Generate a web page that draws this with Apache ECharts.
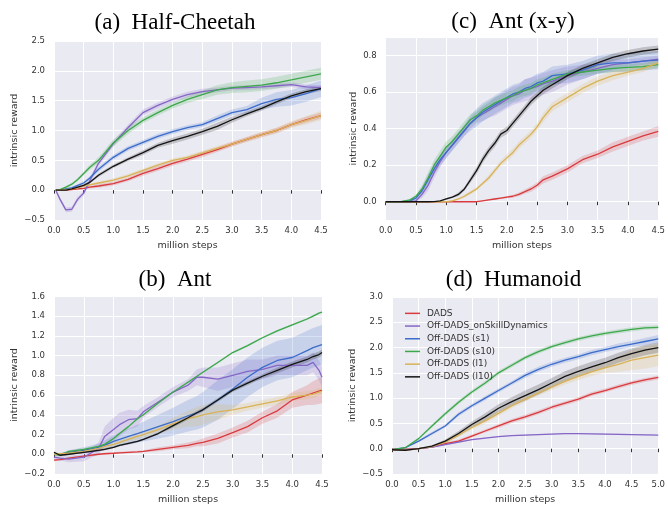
<!DOCTYPE html>
<html>
<head>
<meta charset="utf-8">
<script src="https://cdn.jsdelivr.net/npm/echarts@6/dist/echarts.min.js"></script>
<style>
html,body{margin:0;padding:0;background:#fff;}
#chart{width:668px;height:506px;}
</style>
</head>
<body>
<div id="chart"></div>
<script>
// ---------- data ----------
const seriesNames = ['DADS','Off-DADS_onSkillDynamics','Off-DADS (s1)','Off-DADS (s10)','Off-DADS (l1)','Off-DADS (l10)'];
const panelTitles = ['(a)  Half-Cheetah','(c)  Ant (x-y)','(b)  Ant','(d)  Humanoid'];

// (a) Half-Cheetah
const xA = [0.03,0.1,0.2,0.3,0.4,0.5,0.6,0.75,1.0,1.25,1.5,1.75,2.0,2.25,2.5,2.75,3.0,3.25,3.5,3.75,4.0,4.25,4.5];
const aRed = [0,0,0,0.01,0.02,0.03,0.05,0.07,0.11,0.18,0.28,0.36,0.45,0.52,0.6,0.68,0.77,0.85,0.93,1.0,1.1,1.18,1.25];
const aPur = [0,-0.15,-0.33,-0.32,-0.15,-0.05,0.15,0.45,0.78,1.05,1.3,1.42,1.52,1.6,1.65,1.68,1.71,1.72,1.73,1.75,1.77,1.73,1.72];
const aBlu = [0,0,0.02,0.04,0.08,0.12,0.2,0.35,0.55,0.7,0.8,0.9,0.98,1.05,1.1,1.2,1.3,1.35,1.45,1.52,1.55,1.62,1.7];
const aGrn = [0,0.01,0.05,0.1,0.18,0.28,0.38,0.5,0.79,1.0,1.17,1.3,1.42,1.52,1.6,1.68,1.72,1.74,1.76,1.8,1.85,1.9,1.95];
const aGld = [0,0,0.01,0.02,0.04,0.07,0.09,0.12,0.17,0.24,0.33,0.42,0.5,0.55,0.62,0.7,0.77,0.85,0.93,1.0,1.1,1.17,1.25];
const aBlk = [0,0,0,0.02,0.05,0.08,0.13,0.25,0.4,0.52,0.63,0.75,0.83,0.9,0.98,1.07,1.18,1.28,1.37,1.48,1.58,1.65,1.7];
const aRedSd = [0.01,0.01,0.01,0.01,0.02,0.02,0.02,0.03,0.03,0.03,0.04,0.04,0.04,0.04,0.05,0.04,0.04,0.04,0.04,0.04,0.04,0.05,0.05];
const aPurSd = [0.01,0.03,0.04,0.04,0.04,0.04,0.05,0.05,0.05,0.05,0.05,0.05,0.05,0.05,0.05,0.04,0.04,0.04,0.04,0.04,0.04,0.04,0.04];
const aBluSd = [0.01,0.01,0.02,0.02,0.02,0.03,0.03,0.04,0.04,0.04,0.04,0.04,0.04,0.04,0.04,0.05,0.05,0.06,0.1,0.12,0.13,0.14,0.14];
const aGrnSd = [0.01,0.01,0.02,0.02,0.03,0.03,0.04,0.05,0.06,0.06,0.05,0.05,0.05,0.06,0.07,0.08,0.09,0.1,0.1,0.1,0.1,0.1,0.1];
const aGldSd = [0.01,0.01,0.01,0.01,0.02,0.02,0.02,0.02,0.03,0.03,0.03,0.03,0.03,0.03,0.04,0.04,0.04,0.04,0.05,0.05,0.06,0.07,0.08];
const aBlkSd = [0.01,0.01,0.01,0.01,0.02,0.02,0.02,0.03,0.03,0.03,0.04,0.04,0.05,0.05,0.05,0.06,0.05,0.04,0.04,0.04,0.04,0.04,0.04];

// (c) Ant (x-y)
const xC = [0,0.25,0.4,0.5,0.6,0.7,0.8,0.9,1.0,1.1,1.2,1.3,1.4,1.5,1.6,1.7,1.8,1.9,2.0,2.1,2.2,2.3,2.4,2.5,2.6,2.75,3.0,3.25,3.5,3.75,4.0,4.25,4.5];
const cRed = [0,0,0,0,0,0,0,0,0,0,0,0,0,0,0.005,0.01,0.015,0.02,0.025,0.03,0.04,0.055,0.07,0.09,0.12,0.14,0.18,0.23,0.26,0.3,0.33,0.36,0.385];
const cPur = [0,0,0,0.005,0.04,0.09,0.16,0.22,0.27,0.31,0.35,0.39,0.43,0.46,0.48,0.5,0.52,0.54,0.56,0.58,0.59,0.61,0.62,0.63,0.645,0.66,0.69,0.71,0.73,0.75,0.76,0.77,0.78];
const cBlu = [0,0,0.005,0.02,0.06,0.12,0.18,0.23,0.27,0.31,0.35,0.39,0.43,0.46,0.49,0.51,0.53,0.55,0.57,0.59,0.6,0.62,0.63,0.65,0.66,0.69,0.7,0.72,0.75,0.76,0.76,0.77,0.775];
const cGrn = [0,0,0.01,0.03,0.07,0.13,0.2,0.25,0.3,0.33,0.37,0.41,0.45,0.47,0.5,0.52,0.54,0.555,0.57,0.58,0.6,0.61,0.62,0.64,0.65,0.67,0.7,0.71,0.72,0.73,0.735,0.74,0.75];
const cGld = [0,0,0,0,0,0,0,0,0,0.005,0.015,0.03,0.05,0.07,0.1,0.13,0.17,0.21,0.24,0.27,0.31,0.34,0.37,0.41,0.46,0.52,0.57,0.62,0.66,0.69,0.71,0.73,0.76];
const cBlk = [0,0,0,0,0,0,0.001,0.005,0.015,0.025,0.04,0.07,0.12,0.17,0.23,0.28,0.32,0.37,0.39,0.43,0.47,0.51,0.55,0.58,0.61,0.64,0.69,0.73,0.76,0.79,0.81,0.825,0.835];
const cRedSd = [0,0,0,0,0,0,0,0,0,0,0,0,0,0,0.003,0.004,0.005,0.005,0.006,0.008,0.01,0.012,0.015,0.015,0.02,0.02,0.02,0.02,0.02,0.025,0.025,0.025,0.03];
const cPurSd = [0,0,0,0.005,0.02,0.03,0.03,0.03,0.03,0.03,0.03,0.03,0.03,0.03,0.04,0.04,0.05,0.05,0.05,0.05,0.05,0.06,0.06,0.06,0.06,0.06,0.05,0.04,0.03,0.03,0.02,0.02,0.02];
const cBluSd = [0,0,0.005,0.01,0.02,0.03,0.03,0.03,0.03,0.03,0.03,0.03,0.04,0.05,0.05,0.05,0.05,0.05,0.05,0.05,0.05,0.05,0.05,0.05,0.05,0.05,0.05,0.05,0.05,0.05,0.05,0.05,0.05];
const cGrnSd = [0,0,0.005,0.01,0.02,0.03,0.03,0.03,0.03,0.03,0.03,0.03,0.03,0.03,0.03,0.03,0.03,0.03,0.03,0.03,0.03,0.03,0.03,0.03,0.03,0.03,0.02,0.02,0.02,0.02,0.02,0.02,0.02];
const cGldSd = [0,0,0,0,0,0,0,0,0,0.003,0.005,0.01,0.01,0.01,0.01,0.015,0.015,0.015,0.02,0.02,0.02,0.02,0.02,0.02,0.025,0.025,0.025,0.025,0.025,0.025,0.02,0.02,0.02];
const cBlkSd = [0,0,0,0,0,0,0,0.002,0.005,0.005,0.01,0.01,0.015,0.02,0.02,0.02,0.02,0.02,0.02,0.02,0.02,0.02,0.02,0.02,0.02,0.02,0.02,0.02,0.02,0.02,0.02,0.02,0.02];

// (b) Ant
const xB = [0,0.1,0.25,0.5,0.75,0.85,1.0,1.1,1.25,1.4,1.5,1.75,2.0,2.25,2.4,2.5,2.75,3.0,3.25,3.5,3.75,4.0,4.25,4.35,4.45,4.5];
const bRed = [-0.06,-0.055,-0.04,-0.02,0,0.005,0.01,0.015,0.02,0.025,0.03,0.05,0.07,0.09,0.11,0.12,0.16,0.22,0.28,0.37,0.44,0.55,0.6,0.62,0.64,0.65];
const bPur = [-0.03,-0.04,-0.05,-0.03,0.06,0.18,0.25,0.3,0.35,0.36,0.43,0.53,0.63,0.7,0.78,0.78,0.76,0.8,0.84,0.86,0.9,0.9,0.9,0.93,0.85,0.78];
const bBlu = [0,0,0.02,0.04,0.07,0.09,0.13,0.15,0.18,0.21,0.23,0.28,0.33,0.39,0.42,0.45,0.55,0.66,0.78,0.88,0.95,0.98,1.05,1.08,1.1,1.11];
const bGrn = [0,-0.01,0.03,0.05,0.08,0.1,0.16,0.21,0.28,0.36,0.4,0.52,0.63,0.73,0.79,0.83,0.93,1.03,1.1,1.18,1.25,1.31,1.37,1.4,1.43,1.44];
const bGld = [0,0.005,0.01,0.03,0.06,0.08,0.1,0.12,0.15,0.18,0.2,0.25,0.31,0.36,0.38,0.4,0.43,0.45,0.48,0.51,0.54,0.58,0.6,0.61,0.63,0.64];
const bBlk = [0.02,-0.01,0,0.02,0.04,0.05,0.07,0.09,0.11,0.13,0.15,0.21,0.29,0.37,0.42,0.45,0.55,0.65,0.72,0.79,0.85,0.91,0.96,0.99,1.01,1.03];
const bRedSd = [0.01,0.01,0.01,0.01,0.01,0.01,0.01,0.01,0.01,0.01,0.01,0.02,0.02,0.03,0.03,0.04,0.05,0.05,0.06,0.06,0.07,0.08,0.1,0.12,0.13,0.13];
const bPurSd = [0.02,0.02,0.03,0.04,0.06,0.1,0.12,0.12,0.1,0.08,0.06,0.05,0.05,0.06,0.08,0.1,0.12,0.12,0.12,0.1,0.1,0.1,0.1,0.1,0.1,0.1];
const bBluSd = [0.01,0.01,0.02,0.03,0.04,0.05,0.06,0.07,0.08,0.09,0.1,0.12,0.14,0.16,0.17,0.18,0.2,0.2,0.2,0.2,0.2,0.2,0.2,0.2,0.2,0.2];
const bGrnSd = [0.01,0.01,0.01,0.01,0.01,0.01,0.01,0.01,0.01,0.01,0.01,0.01,0.01,0.01,0.01,0.01,0.01,0.01,0.01,0.01,0.01,0.01,0.01,0.01,0.01,0.01];
const bGldSd = [0.01,0.01,0.01,0.01,0.02,0.02,0.02,0.02,0.02,0.03,0.03,0.04,0.06,0.08,0.1,0.1,0.08,0.05,0.04,0.04,0.04,0.04,0.04,0.04,0.04,0.04];
const bBlkSd = [0.01,0.01,0.01,0.01,0.01,0.01,0.01,0.01,0.01,0.01,0.01,0.01,0.02,0.02,0.02,0.02,0.02,0.02,0.02,0.02,0.03,0.03,0.03,0.03,0.03,0.03];

// (d) Humanoid
const xD = [0,0.25,0.5,0.75,1.0,1.25,1.5,1.75,2.0,2.25,2.5,2.75,3.0,3.25,3.5,3.75,4.0,4.25,4.5,4.75,5.0];
const dRed = [-0.01,-0.01,0,0.03,0.1,0.15,0.25,0.35,0.45,0.55,0.63,0.72,0.82,0.9,0.98,1.08,1.15,1.23,1.3,1.36,1.41];
const dPur = [-0.02,-0.02,0,0.03,0.08,0.13,0.18,0.21,0.24,0.26,0.27,0.28,0.29,0.3,0.3,0.295,0.29,0.285,0.28,0.275,0.27];
const dBlu = [-0.02,0.02,0.15,0.3,0.45,0.68,0.85,1.0,1.15,1.3,1.45,1.57,1.67,1.75,1.82,1.9,1.96,2.02,2.07,2.12,2.17];
const dGrn = [-0.02,0.02,0.2,0.45,0.69,0.92,1.12,1.3,1.5,1.65,1.8,1.92,2.02,2.1,2.17,2.23,2.28,2.32,2.36,2.39,2.4];
const dGld = [-0.02,-0.03,0,0.04,0.13,0.27,0.42,0.55,0.7,0.85,0.98,1.1,1.22,1.33,1.43,1.52,1.6,1.67,1.75,1.8,1.85];
const dBlk = [-0.02,-0.03,0,0.05,0.15,0.3,0.48,0.63,0.8,0.93,1.05,1.17,1.3,1.43,1.53,1.62,1.7,1.8,1.88,1.95,2.0];
const dRedSd = [0,0,0.01,0.01,0.02,0.03,0.03,0.03,0.04,0.04,0.04,0.04,0.04,0.04,0.04,0.04,0.04,0.04,0.04,0.04,0.04];
const dPurSd = [0,0,0.01,0.01,0.01,0.01,0.01,0.01,0.01,0.01,0.01,0.01,0.01,0.01,0.01,0.01,0.01,0.01,0.01,0.01,0.01];
const dBluSd = [0,0,0.02,0.03,0.03,0.04,0.04,0.04,0.04,0.04,0.05,0.05,0.05,0.05,0.05,0.05,0.05,0.06,0.06,0.07,0.08];
const dGrnSd = [0,0,0.02,0.03,0.04,0.04,0.04,0.04,0.04,0.04,0.04,0.04,0.04,0.04,0.04,0.04,0.04,0.04,0.04,0.04,0.04];
const dGldSd = [0,0,0.01,0.02,0.03,0.04,0.04,0.05,0.05,0.05,0.05,0.05,0.06,0.06,0.07,0.08,0.1,0.15,0.2,0.22,0.22];
const dBlkSd = [0,0,0.01,0.02,0.03,0.05,0.06,0.07,0.08,0.09,0.1,0.1,0.1,0.1,0.1,0.1,0.1,0.1,0.1,0.1,0.1];

// ---------- styling / layout ----------
const colors = ['#D93A3E','#8566C6','#3B6CCB','#3CA84B','#D8B257','#141414'];
const panels = [
  {x:xA, m:[aRed,aPur,aBlu,aGrn,aGld,aBlk], s:[aRedSd,aPurSd,aBluSd,aGrnSd,aGldSd,aBlkSd],
   grid:{left:54, top:41, width:267, height:179}, xMax:4.5, yMin:-0.5, yMax:2.5, yInt:0.5, yGap:34,
   title:{cx:170, top:6}},
  {x:xC, m:[cRed,cPur,cBlu,cGrn,cGld,cBlk], s:[cRedSd,cPurSd,cBluSd,cGrnSd,cGldSd,cBlkSd],
   grid:{left:385.7, top:37.3, width:273.3, height:182.7}, xMax:4.5, yMin:-0.1, yMax:0.9, yInt:null, yGap:27,
   title:{cx:508, top:5}},
  {x:xB, m:[bRed,bPur,bBlu,bGrn,bGld,bBlk], s:[bRedSd,bPurSd,bBluSd,bGrnSd,bGldSd,bBlkSd],
   grid:{left:54, top:296.3, width:268, height:178.2}, xMax:4.5, yMin:-0.2, yMax:1.6, yInt:0.2, yGap:34,
   title:{cx:170, top:263}},
  {x:xD, m:[dRed,dPur,dBlu,dGrn,dGld,dBlk], s:[dRedSd,dPurSd,dBluSd,dGrnSd,dGldSd,dBlkSd],
   grid:{left:392, top:297, width:268, height:178}, xMax:5.0, yMin:-0.5, yMax:3.0, yInt:0.5, yGap:34,
   title:{cx:508.5, top:263}}
];

function fmt(v){
  const r = Math.round(v*10)/10;
  return (r < 0 ? '\u2212' : '') + Math.abs(r).toFixed(1);
}
const tickFont = {fontFamily:'DejaVu Sans', fontSize:8.5, color:'#333'};
const nameFont = {fontFamily:'DejaVu Sans', fontSize:9.5, color:'#333'};

const grids = [], xAxes = [], yAxes = [], titles = [], series = [];
panels.forEach((p, i) => {
  grids.push(Object.assign({show:true, backgroundColor:'#EAEAF2', borderWidth:0}, p.grid));
  titles.push({text: panelTitles[i], left: p.title.cx, top: p.title.top, textAlign:'center',
    textStyle:{fontFamily:'Liberation Serif', fontSize:23, fontWeight:'normal', color:'#000'}});
  xAxes.push({type:'value', gridIndex:i, min:0, max:p.xMax, interval:0.5,
    name:'million steps', nameLocation:'middle', nameGap:21, nameTextStyle:nameFont,
    axisLine:{show:false}, axisTick:{show:true, length:3.5, lineStyle:{color:'#333', width:1}},
    axisLabel:Object.assign({margin:6, formatter:fmt}, tickFont),
    splitLine:{show:true, lineStyle:{color:'#fff', width:1}}});
  const ya = {type:'value', gridIndex:i, min:p.yMin, max:p.yMax,
    name:'intrinsic reward', nameLocation:'middle', nameGap:p.yGap, nameTextStyle:nameFont,
    axisLine:{show:false}, axisTick:{show:false},
    axisLabel:Object.assign({margin:9, formatter: p.yInt ? fmt : (v => (Math.round(v*10) % 2 !== 0 ? '' : fmt(v)))}, tickFont),
    splitLine:{show:true, lineStyle:{color:'#fff', width:1}}};
  if (p.yInt) ya.interval = p.yInt; else ya.splitNumber = 5;
  yAxes.push(ya);

  // confidence bands: data stored as [y, x] so the stack runs on the y value
  p.m.forEach((mean, k) => {
    const sd = p.s[k];
    const stackId = 'band' + i + '_' + k;
    const common = {type:'line', name: seriesNames[k] + ' band', xAxisIndex:i, yAxisIndex:i,
      stack: stackId, stackStrategy:'all', symbol:'none', silent:true, z:1,
      encode:{x:1, y:0}, dimensions:['yv','xv'],
      lineStyle:{width:0, opacity:0}};
    series.push(Object.assign({}, common, {
      data: p.x.map((v, j) => [mean[j] - (sd[j] || 0), v])}));
    series.push(Object.assign({}, common, {
      areaStyle:{color: colors[k], opacity:0.2},
      data: p.x.map((v, j) => [2 * (sd[j] || 0), v])}));
  });
  // mean lines
  p.m.forEach((mean, k) => {
    series.push({type:'line', name: seriesNames[k], xAxisIndex:i, yAxisIndex:i,
      symbol:'none', showSymbol:false, z:3, color: colors[k],
      lineStyle:{width:1.3, color: colors[k]},
      data: p.x.map((v, j) => [v, mean[j]])});
  });
});

const chart = echarts.init(document.getElementById('chart'), null, {renderer:'canvas'});
chart.setOption({
  animation:false,
  backgroundColor:'#fff',
  title: titles,
  grid: grids,
  xAxis: xAxes,
  yAxis: yAxes,
  legend: {
    data: seriesNames, orient:'vertical', left:400, top:302,
    icon:'rect', itemWidth:15, itemHeight:1.5, itemGap:0,
    itemStyle:{borderWidth:0},
    textStyle:{fontFamily:'DejaVu Sans', fontSize:9, color:'#333', lineHeight:12.7, padding:[0,0,0,2]},
    selectedMode:false
  },
  series: series
});
</script>
</body>
</html>
